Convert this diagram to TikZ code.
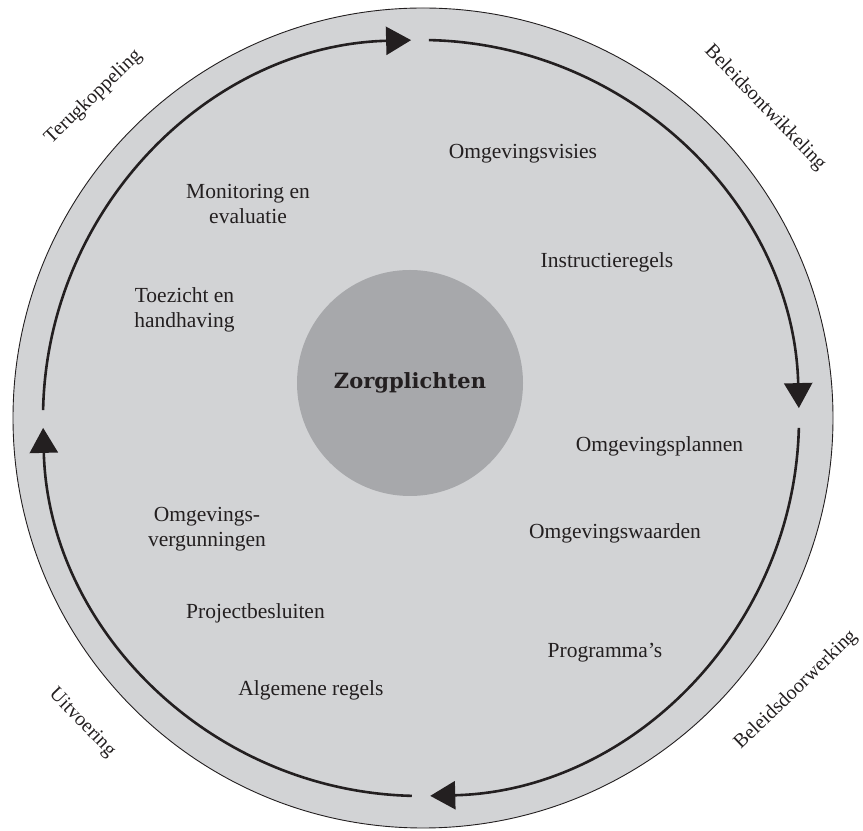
\documentclass[tikz,border=0pt]{standalone}
\usepackage{fontspec}
\setmainfont{Liberation Serif}
\newfontfamily\zfont{DejaVu Serif}
\usetikzlibrary{arrows.meta}
\definecolor{ringgray}{HTML}{D2D3D5}
\definecolor{coregray}{HTML}{A7A8AB}
\definecolor{inkc}{HTML}{231F20}
\begin{document}
\begin{tikzpicture}[x=1bp,y=1bp,
  lbl/.style={font=\fontsize{21.5bp}{25bp}\selectfont, text=inkc, inner sep=0pt, align=center},
  phase/.style={font=\fontsize{20bp}{23bp}\selectfont, text=inkc, inner sep=0pt},
  cyc/.style={line width=2.6bp, draw=inkc, -{Triangle[length=25bp,width=28bp]}}]
\useasboundingbox (0,0) rectangle (863,831);
% outer ring
\coordinate (ringc) at (423,413);
\fill[ringgray, draw=inkc, line width=0.9bp] (ringc) circle[radius=410];
% core
\node[circle, fill=coregray, minimum size=226bp, inner sep=0pt] (core) at (410,448) {};
\node[font=\zfont\bfseries\fontsize{21bp}{25bp}\selectfont, text=inkc] (zorg) at (core.center) {Zorgplichten};
% cycle arcs
\coordinate (hub) at (421,413);
\draw[cyc] ([shift={(88.8:378)}]hub) arc[start angle=88.8, end angle=1.5, radius=378];
\draw[cyc] ([shift={(-1.5:378)}]hub) arc[start angle=-1.5, end angle=-88.6, radius=378];
\draw[cyc] ([shift={(-91.4:378)}]hub) arc[start angle=-91.4, end angle=-178.5, radius=378];
\draw[cyc] ([shift={(178.8:378)}]hub) arc[start angle=178.8, end angle=91.5, radius=378];
% inner labels
\node[lbl, anchor=base] (vis) at (523,672) {Omgevingsvisies};
\node[lbl, anchor=base] (instr) at (607,563) {Instructieregels};
\node[lbl] (monit) at (248,626.7) {Monitoring en\\evaluatie};
\node[lbl] (toez) at (184.5,521.4) {Toezicht en\\handhaving};
\node[lbl, anchor=base] (plannen) at (659.5,379) {Omgevingsplannen};
\node[lbl, anchor=base] (waarden) at (615,292) {Omgevingswaarden};
\node[lbl] (verg) at (207,301.5) {Omgevings-\\vergunningen};
\node[lbl, anchor=base] (proj) at (255.5,212) {Projectbesluiten};
\node[lbl, anchor=base] (prog) at (605,173) {Programma’s};
\node[lbl, anchor=base] (algem) at (311,135) {Algemene regels};
% phase labels
\node[phase, rotate=44] (terug) at (93.5,734) {Terugkoppeling};
\node[phase, rotate=-46] (ontw) at (765,723) {Beleidsontwikkeling};
\node[phase, rotate=44] (doorw) at (796,141) {Beleidsdoorwerking};
\node[phase, rotate=-46] (uitv) at (82,108) {Uitvoering};
\end{tikzpicture}
\end{document}
